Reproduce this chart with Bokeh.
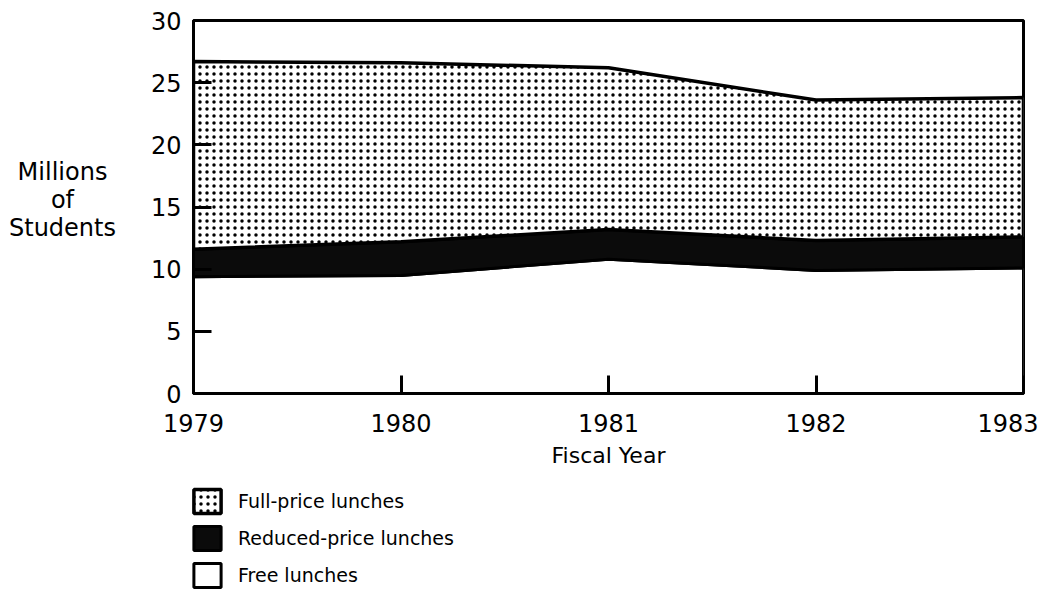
from bokeh.plotting import figure
from bokeh.layouts import column, row
from bokeh.models import Range1d, FixedTicker, Legend, LegendItem, Label
from bokeh.embed import file_html
from bokeh.resources import INLINE

# ---- data (millions of students) ----
years = [1979, 1980, 1981, 1982, 1983]
free_lunches = [9.4, 9.5, 10.8, 9.9, 10.1]
reduced_lunches = [2.2, 2.7, 2.4, 2.4, 2.5]
full_lunches = [15.1, 14.4, 13.0, 11.3, 11.2]
y_ticks = [0, 5, 10, 15, 20, 25, 30]
x_ticks = years
labels = ["Full-price lunches", "Reduced-price lunches", "Free lunches"]
y_title = "Millions\nof\nStudents"
x_title = "Fiscal Year"

FONT = "DejaVu Sans"

FULL_STYLE = dict(fill_color="white", hatch_pattern="dot", hatch_color="black",
                  hatch_scale=7, hatch_weight=1.3, line_color="black", line_width=3.5)
RED_STYLE = dict(fill_color="#0b0b0b", line_color="black", line_width=3)
FREE_STYLE = dict(fill_color="white", line_color="black", line_width=3)

# stacked boundaries derived from data
reduced_top = [f + r for f, r in zip(free_lunches, reduced_lunches)]
total = [t + u for t, u in zip(reduced_top, full_lunches)]
zeros = [0] * len(years)

def band(bottom, top):
    xs = list(years) + list(reversed(years))
    ys = list(top) + list(reversed(bottom))
    return xs, ys

bands = [band(zeros, free_lunches), band(free_lunches, reduced_top), band(reduced_top, total)]
styles = [FREE_STYLE, RED_STYLE, FULL_STYLE]

TITLE_W = 140
MAIN_H = 483
TOTAL_W = 1038
TOTAL_H = 594

# ---------------- main chart ----------------
p = figure(frame_width=830, frame_height=373, output_backend="svg", toolbar_location=None,
           x_range=Range1d(1979, 1983), y_range=Range1d(0, 30),
           min_border_left=193 - TITLE_W, min_border_right=15, min_border_top=20,
           min_border_bottom=MAIN_H - 20 - 373)
p.grid.visible = False
p.background_fill_color = "white"
p.border_fill_color = "white"
p.outline_line_color = "black"
p.outline_line_width = 3

for (xs, ys), st in zip(bands, styles):
    p.patch(xs, ys, **st)

for ax in (p.xaxis[0], p.yaxis[0]):
    ax.axis_line_width = 3
    ax.axis_line_color = "black"
    ax.major_tick_line_width = 3
    ax.major_tick_line_color = "black"
    ax.major_tick_in = 18
    ax.major_tick_out = 0
    ax.minor_tick_line_color = None
    ax.major_label_text_font = FONT
    ax.major_label_text_font_size = "24px"
    ax.major_label_text_color = "black"

p.xaxis.ticker = FixedTicker(ticks=x_ticks)
p.yaxis.ticker = FixedTicker(ticks=y_ticks)
p.xaxis.major_label_standoff = 20
p.yaxis.major_label_standoff = 12
p.xaxis.axis_label = x_title
p.xaxis.axis_label_text_font = FONT
p.xaxis.axis_label_text_font_size = "22px"
p.xaxis.axis_label_text_font_style = "normal"
p.xaxis.axis_label_text_color = "black"
p.xaxis.axis_label_standoff = 8

# ---------------- y title panel ----------------
t = figure(width=TITLE_W, height=MAIN_H, output_backend="svg", toolbar_location=None,
           x_range=Range1d(0, TITLE_W), y_range=Range1d(0, MAIN_H),
           min_border=0, outline_line_color=None)
t.axis.visible = False
t.grid.visible = False
t.add_layout(Label(x=62, y=MAIN_H - 232, text=y_title, text_align="center",
                   text_baseline="middle", text_font=FONT, text_font_size="24px",
                   text_color="black", text_line_height=1.0))

# ---------------- legend panel ----------------
# swatch renderers carry the same bands, but lie outside this panel's ranges
LEG_H = TOTAL_H - MAIN_H
lg = figure(width=TOTAL_W, height=LEG_H, output_backend="svg", toolbar_location=None,
            x_range=Range1d(0, 1), y_range=Range1d(0, 1),
            min_border=0, outline_line_color=None)
lg.axis.visible = False
lg.grid.visible = False
k_free, k_red, k_full = [lg.patch(xs, ys, **st) for (xs, ys), st in zip(bands, styles)]
legend = Legend(items=[LegendItem(label=labels[0], renderers=[k_full]),
                       LegendItem(label=labels[1], renderers=[k_red]),
                       LegendItem(label=labels[2], renderers=[k_free])],
                location=(190, 4), orientation="vertical",
                glyph_width=34, glyph_height=30, label_height=30,
                label_standoff=14, spacing=7, padding=0, margin=0,
                border_line_color=None, background_fill_alpha=0,
                label_text_font=FONT, label_text_font_size="19px",
                label_text_color="black")
lg.add_layout(legend)

layout = column(row(t, p, spacing=0), lg, spacing=0)

open("out.html", "w").write(file_html(layout, INLINE))
